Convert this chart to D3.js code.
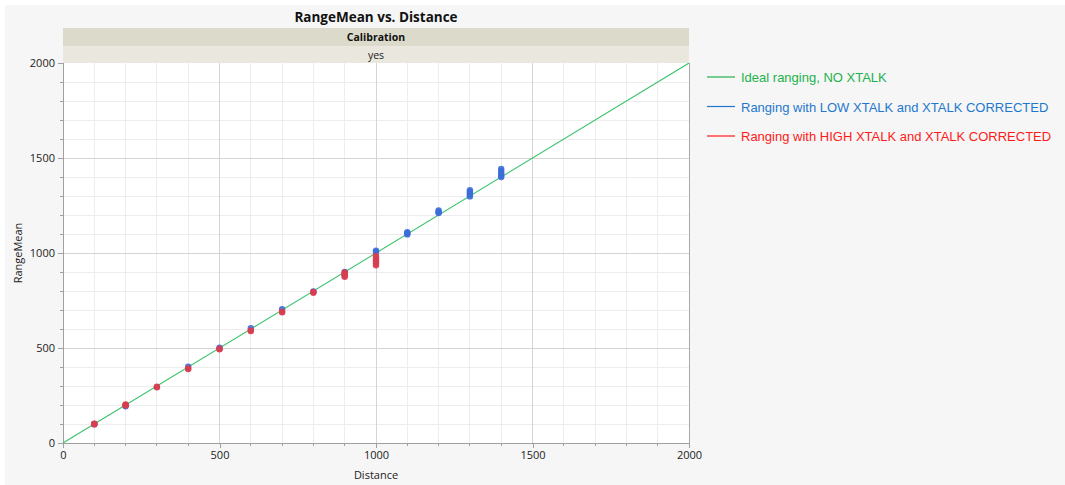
<!DOCTYPE html>
<html>
<head>
<meta charset="utf-8">
<script src="https://cdn.jsdelivr.net/npm/d3@7"></script>
<style>
  html, body { margin: 0; padding: 0; background: #ffffff; }
  svg { display: block; }
</style>
</head>
<body>
<svg id="chart" width="1065" height="485"></svg>
<script>
// Measured distance (mm) and mean reported range, per crosstalk condition
const lowXtalkDistance = [100, 200, 400, 500, 600, 700, 800, 900, 1000, 1000,
  1100, 1100, 1100, 1200, 1200, 1200, 1300, 1300, 1300, 1300, 1300,
  1400, 1400, 1400, 1400, 1400];
const lowXtalkRange = [100, 193, 402, 502, 604, 704, 798, 900, 1005, 1012,
  1098, 1104, 1110, 1210, 1216, 1224, 1298, 1306, 1314, 1322, 1330,
  1400, 1407, 1420, 1432, 1443];

const highXtalkDistance = [100, 100, 100, 200, 200, 200, 300, 300, 400, 400,
  500, 500, 600, 600, 700, 700, 800, 800, 900, 900, 900, 900, 900,
  1000, 1000, 1000, 1000, 1000, 1000];
const highXtalkRange = [98, 100, 102, 197, 200, 203, 293, 296, 389, 392,
  493, 496, 589, 592, 688, 691, 791, 795, 875, 880, 886, 892, 898,
  935, 945, 955, 965, 975, 985];

// Reference line: ideal ranging with no crosstalk
const idealLine = [[0, 0], [2000, 2000]];

const xTicks = [0, 500, 1000, 1500, 2000];
const yTicks = [0, 500, 1000, 1500, 2000];
const minorStep = 100;

const legendLabels = [
  "Ideal ranging, NO XTALK",
  "Ranging with LOW XTALK and XTALK CORRECTED",
  "Ranging with HIGH XTALK and XTALK CORRECTED"
];
const legendColors = ["#22b24c", "#1e78cf", "#ff1a1a"];

const svg = d3.select("#chart");
const W = 1065, H = 485;
const plot = { left: 63, top: 63, right: 689, bottom: 443 };

// frame background
svg.append("rect").attr("x", 5).attr("y", 5).attr("width", W - 5).attr("height", H - 5)
  .attr("fill", "#f6f6f6");

const x = d3.scaleLinear().domain([0, 2000]).range([plot.left, plot.right]);
const y = d3.scaleLinear().domain([0, 2000]).range([plot.bottom, plot.top]);

// title
svg.append("text")
  .attr("x", (plot.left + plot.right) / 2).attr("y", 22)
  .attr("text-anchor", "middle")
  .attr("font-family", "'Open Sans', sans-serif")
  .attr("font-weight", "bold").attr("font-size", 13.5)
  .attr("fill", "#111")
  .text("RangeMean vs. Distance");

// group header bands
svg.append("rect").attr("x", plot.left).attr("y", 28)
  .attr("width", plot.right - plot.left).attr("height", 18).attr("fill", "#dcdacb");
svg.append("rect").attr("x", plot.left).attr("y", 46)
  .attr("width", plot.right - plot.left).attr("height", 17).attr("fill", "#e9e7de");
svg.append("text")
  .attr("x", (plot.left + plot.right) / 2).attr("y", 41)
  .attr("text-anchor", "middle")
  .attr("font-family", "'Open Sans', sans-serif")
  .attr("font-weight", "bold").attr("font-size", 10.5).attr("fill", "#111")
  .text("Calibration");
svg.append("text")
  .attr("x", (plot.left + plot.right) / 2).attr("y", 59)
  .attr("text-anchor", "middle")
  .attr("font-family", "'Open Sans', sans-serif")
  .attr("font-size", 10.5).attr("fill", "#222")
  .text("yes");

// plot area
svg.append("rect").attr("x", plot.left).attr("y", plot.top)
  .attr("width", plot.right - plot.left).attr("height", plot.bottom - plot.top)
  .attr("fill", "#ffffff");

const minorTicks = d3.range(0, 2001, minorStep).filter(v => v % 500 !== 0);
const grid = svg.append("g");
grid.selectAll("line.vminor").data(minorTicks).join("line")
  .attr("x1", d => x(d)).attr("x2", d => x(d))
  .attr("y1", plot.top).attr("y2", plot.bottom)
  .attr("stroke", "#ededed").attr("stroke-width", 1).attr("shape-rendering", "crispEdges");
grid.selectAll("line.hminor").data(minorTicks).join("line")
  .attr("y1", d => y(d)).attr("y2", d => y(d))
  .attr("x1", plot.left).attr("x2", plot.right)
  .attr("stroke", "#ededed").attr("stroke-width", 1).attr("shape-rendering", "crispEdges");
grid.selectAll("line.vmajor").data(xTicks.slice(1, -1)).join("line")
  .attr("x1", d => x(d)).attr("x2", d => x(d))
  .attr("y1", plot.top).attr("y2", plot.bottom)
  .attr("stroke", "#d4d4d4").attr("stroke-width", 1).attr("shape-rendering", "crispEdges");
grid.selectAll("line.hmajor").data(yTicks.slice(1, -1)).join("line")
  .attr("y1", d => y(d)).attr("y2", d => y(d))
  .attr("x1", plot.left).attr("x2", plot.right)
  .attr("stroke", "#d4d4d4").attr("stroke-width", 1).attr("shape-rendering", "crispEdges");

// plot frame (right edge)
svg.append("line").attr("x1", plot.right).attr("x2", plot.right)
  .attr("y1", plot.top).attr("y2", plot.bottom)
  .attr("stroke", "#a8a8a8").attr("shape-rendering", "crispEdges");

// axes
const fmt = d3.format("d");
const xAxis = d3.axisBottom(x).tickValues(xTicks).tickFormat(fmt).tickSize(5).tickPadding(3);
const yAxis = d3.axisLeft(y).tickValues(yTicks).tickFormat(fmt).tickSize(5).tickPadding(3);

function styleAxis(g) {
  g.select(".domain").attr("stroke", "#a0a0a0").attr("shape-rendering", "crispEdges");
  g.selectAll(".tick line").attr("stroke", "#a0a0a0").attr("shape-rendering", "crispEdges");
  g.selectAll(".tick text").attr("fill", "#222")
    .attr("font-family", "'Open Sans', sans-serif").attr("font-size", 11);
}
const gx = svg.append("g").attr("transform", `translate(0,${plot.bottom})`).call(xAxis);
gx.call(styleAxis);
gx.select(".domain").attr("d", `M${plot.left},0.5H${plot.right}`);
const gy = svg.append("g").attr("transform", `translate(${plot.left},0)`).call(yAxis);
gy.call(styleAxis);
gy.select(".domain").attr("d", `M0.5,${plot.top}V${plot.bottom}`);

// minor ticks
svg.append("g").selectAll("line").data(minorTicks).join("line")
  .attr("x1", d => x(d)).attr("x2", d => x(d))
  .attr("y1", plot.bottom).attr("y2", plot.bottom + 3)
  .attr("stroke", "#a0a0a0").attr("shape-rendering", "crispEdges");
svg.append("g").selectAll("line").data(minorTicks).join("line")
  .attr("y1", d => y(d)).attr("y2", d => y(d))
  .attr("x1", plot.left - 3).attr("x2", plot.left)
  .attr("stroke", "#a0a0a0").attr("shape-rendering", "crispEdges");

// axis titles
svg.append("text")
  .attr("x", (plot.left + plot.right) / 2).attr("y", 479)
  .attr("text-anchor", "middle")
  .attr("font-family", "'Open Sans', sans-serif").attr("font-size", 11).attr("fill", "#222")
  .text("Distance");
svg.append("text")
  .attr("transform", `translate(22,${(plot.top + plot.bottom) / 2}) rotate(-90)`)
  .attr("text-anchor", "middle")
  .attr("font-family", "'Open Sans', sans-serif").attr("font-size", 11).attr("fill", "#222")
  .text("RangeMean");

// data layer clipped to the plot
const clip = svg.append("clipPath").attr("id", "plotClip");
clip.append("rect").attr("x", plot.left).attr("y", plot.top)
  .attr("width", plot.right - plot.left).attr("height", plot.bottom - plot.top);
const layer = svg.append("g").attr("clip-path", "url(#plotClip)");

layer.append("path")
  .datum(idealLine)
  .attr("d", d3.line().x(d => x(d[0])).y(d => y(d[1])))
  .attr("fill", "none").attr("stroke", "#3cc46c").attr("stroke-width", 1.1);

layer.append("g").selectAll("circle")
  .data(d3.range(lowXtalkDistance.length)).join("circle")
  .attr("cx", i => x(lowXtalkDistance[i])).attr("cy", i => y(lowXtalkRange[i]))
  .attr("r", 3.2).attr("fill", "#3b6dd8").attr("fill-opacity", 0.9);

layer.append("g").selectAll("circle")
  .data(d3.range(highXtalkDistance.length)).join("circle")
  .attr("cx", i => x(highXtalkDistance[i])).attr("cy", i => y(highXtalkRange[i]))
  .attr("r", 3.2).attr("fill", "#d63e50").attr("fill-opacity", 0.9);

// legend
const legend = svg.append("g").attr("transform", "translate(707,77)");
legendLabels.forEach((label, i) => {
  const row = legend.append("g").attr("transform", `translate(0,${i * 29.5})`);
  row.append("line").attr("x1", 0).attr("x2", 28).attr("y1", 0).attr("y2", 0)
    .attr("stroke", legendColors[i]).attr("stroke-width", 1.2);
  row.append("text").attr("x", 34).attr("y", 5)
    .attr("font-family", "'Liberation Sans', Arial, sans-serif").attr("font-size", 13)
    .attr("fill", legendColors[i])
    .text(label);
});
</script>
</body>
</html>
